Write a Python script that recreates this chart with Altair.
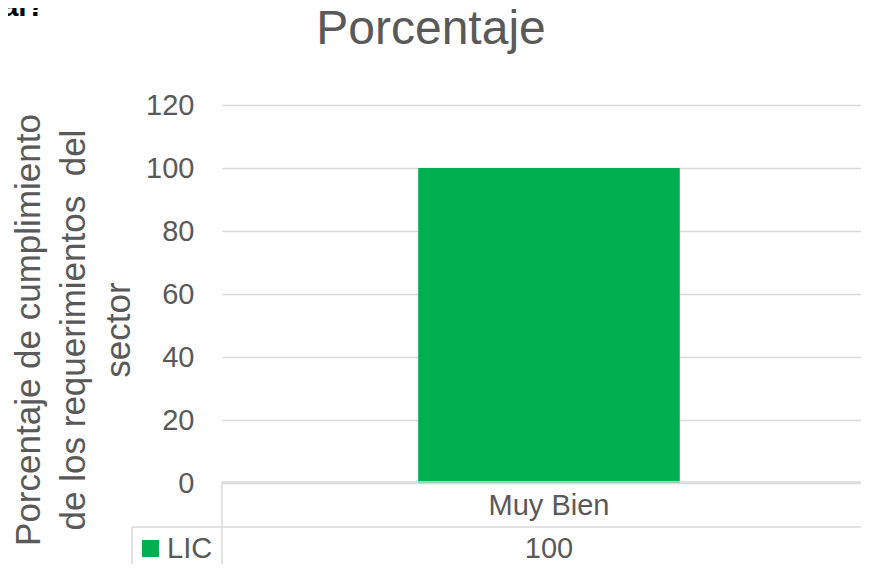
import altair as alt
import pandas as pd

# ---- data ----
categories = ["Muy Bien"]
values = [100]
series_name = "LIC"
y_ticks = [0, 20, 40, 60, 80, 100, 120]
chart_title = "Porcentaje"
y_title_lines = ["Porcentaje de cumplimiento", "de los requerimientos\u00a0 del", "sector"]
cut_text = "al?"

FONT = "Liberation Sans"
GREEN = "#00b050"
TXT = "#595959"
GRID = "#d9d9d9"

df = pd.DataFrame({"categoria": categories, "valor": values, "serie": [series_name] * len(categories)})

base = alt.Chart(df)

xenc = alt.X("categoria:N",
             scale=alt.Scale(range=[0, 654], paddingInner=0, paddingOuter=0.75),
             axis=None)

bars = base.mark_bar(color=GREEN).encode(
    x=xenc,
    y=alt.Y("valor:Q",
            scale=alt.Scale(domain=[0, 120]),
            axis=alt.Axis(values=y_ticks, title=None, grid=True, gridColor=GRID,
                          gridWidth=1.5, domain=False, ticks=False, labelFontSize=29,
                          labelColor=TXT, labelFont=FONT, labelPadding=28)),
)

cat_text = base.mark_text(fontSize=29, color=TXT, font=FONT, baseline="alphabetic").encode(
    x=xenc, y=alt.value(410), text="categoria:N")

val_text = base.mark_text(fontSize=29, color=TXT, font=FONT, baseline="alphabetic").encode(
    x=xenc, y=alt.value(453), text="valor:Q")

# data-table grid lines
axis_line = base.mark_rule(color=GRID, strokeWidth=1.5).encode(
    x=alt.value(0), x2=alt.value(639), y=alt.value(377))
row_line = base.mark_rule(color=GRID, strokeWidth=1.5).encode(
    x=alt.value(-90), x2=alt.value(639), y=alt.value(422))
vline1 = base.mark_rule(color=GRID, strokeWidth=1.5).encode(
    x=alt.value(0), y=alt.value(377), y2=alt.value(470))
vline2 = base.mark_rule(color=GRID, strokeWidth=1.5).encode(
    x=alt.value(-90), y=alt.value(422), y2=alt.value(470))

legend_key = base.mark_rect(color=GREEN).encode(
    x=alt.value(-80), x2=alt.value(-63), y=alt.value(435), y2=alt.value(452))
legend_text = base.mark_text(fontSize=29, color=TXT, font=FONT, align="left",
                             baseline="alphabetic").encode(
    x=alt.value(-55), y=alt.value(453), text="serie:N")

title_text = base.mark_text(fontSize=48, color=TXT, font=FONT, align="center",
                            baseline="alphabetic").encode(
    x=alt.value(209), y=alt.value(-61), text=alt.value(chart_title))

ytitle = base.mark_text(fontSize=35, color=TXT, font=FONT, align="center",
                        baseline="middle", angle=270, lineHeight=45).encode(
    x=alt.value(-193), y=alt.value(225), text=alt.value(y_title_lines))

cut = base.mark_text(fontSize=30, color="#000000", font=FONT, fontWeight="bold",
                     align="right", baseline="alphabetic").encode(
    x=alt.value(-177), y=alt.value(-89), text=alt.value(cut_text))

chart = alt.layer(
    bars, axis_line, row_line, vline1, vline2, cat_text, val_text,
    legend_key, legend_text, title_text, ytitle, cut
).properties(
    width=639, height=378,
    padding={"left": 214, "top": 97, "right": 0, "bottom": 81},
    autosize="none",
    background="white",
).configure_view(stroke=None)

chart.save("out.html", embed_options={"renderer": "svg", "actions": False})
